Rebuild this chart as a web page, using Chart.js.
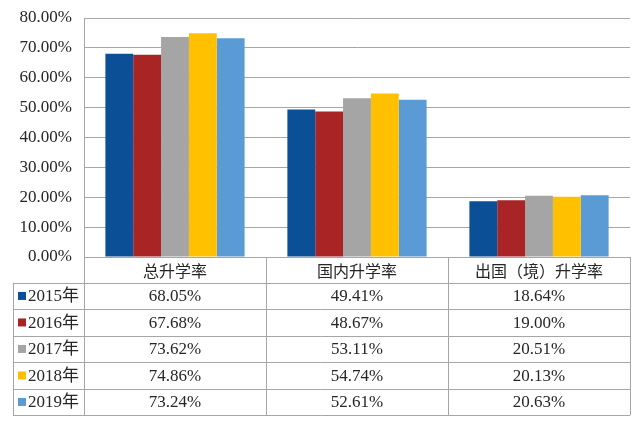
<!DOCTYPE html>
<html>
<head>
<meta charset="utf-8">
<script src="https://cdn.jsdelivr.net/npm/chart.js@4/dist/chart.umd.min.js"></script>
<style>
  html, body { margin: 0; padding: 0; background: #fff; }
  #wrap { width: 640px; height: 421px; position: relative; }
</style>
</head>
<body>
<div id="wrap"><canvas id="c"></canvas></div>
<script>
// categories and series
const categories = ["总升学率", "国内升学率", "出国（境）升学率"];
const years = ["2015年", "2016年", "2017年", "2018年", "2019年"];
const y2015 = [68.05, 49.41, 18.64];
const y2016 = [67.68, 48.67, 19.00];
const y2017 = [73.62, 53.11, 20.51];
const y2018 = [74.86, 54.74, 20.13];
const y2019 = [73.24, 52.61, 20.63];
const colors = ["#0B4F96", "#A92424", "#A5A5A5", "#FFC000", "#5B9BD5"];

const series = [y2015, y2016, y2017, y2018, y2019];
const FONT = "'Liberation Serif', 'Noto Sans CJK SC', serif";
const LINE = "#A6A6A6";
const TEXT = "#262626";

// draws the data table under the plot, using the x scale for column positions
const dataTable = {
  id: "dataTable",
  afterDraw(chart) {
    const ctx = chart.ctx;
    const x = chart.scales.x;
    const area = chart.chartArea;
    const top = area.bottom;
    const headH = 25.7;
    const rowH = 26.5;
    const left = 13;
    const bottom = top + headH + rowH * years.length;
    const bounds = [area.left];
    categories.forEach((c, i) => {
      const next = i < categories.length - 1
        ? (x.getPixelForValue(i) + x.getPixelForValue(i + 1)) / 2
        : area.right;
      bounds.push(next);
    });

    ctx.save();
    ctx.strokeStyle = LINE;
    ctx.lineWidth = 1;
    ctx.beginPath();
    // horizontal lines
    ctx.moveTo(area.left, top + 0.5); ctx.lineTo(area.right, top + 0.5);
    for (let r = 0; r <= years.length; r++) {
      const yy = Math.round(top + headH + rowH * r) + 0.5;
      ctx.moveTo(left, yy); ctx.lineTo(area.right, yy);
    }
    // vertical lines
    bounds.forEach((bx, i) => {
      const xx = Math.round(bx) + 0.5;
      ctx.moveTo(xx, top); ctx.lineTo(xx, bottom);
    });
    ctx.moveTo(left + 0.5, top + headH); ctx.lineTo(left + 0.5, bottom);
    ctx.stroke();

    ctx.fillStyle = TEXT;
    ctx.textAlign = "center";
    ctx.textBaseline = "middle";
    ctx.font = "16px 'Noto Sans CJK SC', sans-serif";
    categories.forEach((c, i) => {
      ctx.fillText(c, x.getPixelForValue(i), top + headH / 2 + 1);
    });

    ctx.font = "17px " + FONT;
    years.forEach((yr, r) => {
      const cy = top + headH + rowH * r + rowH / 2 + 1;
      ctx.fillStyle = colors[r];
      ctx.fillRect(18, cy - 5, 8, 8);
      ctx.fillStyle = TEXT;
      ctx.textAlign = "left";
      ctx.fillText(yr, 28, cy);
      ctx.textAlign = "center";
      series[r].forEach((v, i) => {
        ctx.fillText(v.toFixed(2) + "%", x.getPixelForValue(i), cy);
      });
    });
    ctx.restore();
  }
};

new Chart(document.getElementById("c"), {
  type: "bar",
  data: {
    labels: categories,
    datasets: years.map((yr, i) => ({
      label: yr,
      data: series[i],
      backgroundColor: colors[i],
      borderWidth: 0,
      categoryPercentage: 0.765,
      barPercentage: 1
    }))
  },
  options: {
    responsive: true,
    maintainAspectRatio: false,
    animation: false,
    layout: { padding: { top: 18, right: 10, bottom: 156, left: 0 } },
    plugins: {
      legend: { display: false },
      tooltip: { enabled: false }
    },
    scales: {
      x: {
        grid: { display: false },
        border: { display: false },
        ticks: { display: false }
      },
      y: {
        min: 0,
        max: 80,
        afterFit: s => { s.width = 84; s.paddingTop = 0; s.paddingBottom = 0; },
        ticks: {
          stepSize: 10,
          padding: 12,
          color: TEXT,
          font: { family: FONT, size: 17 },
          callback: v => v.toFixed(2) + "%"
        },
        grid: { color: LINE, drawTicks: false },
        border: { display: true, color: LINE }
      }
    }
  },
  plugins: [dataTable]
});
</script>
</body>
</html>
